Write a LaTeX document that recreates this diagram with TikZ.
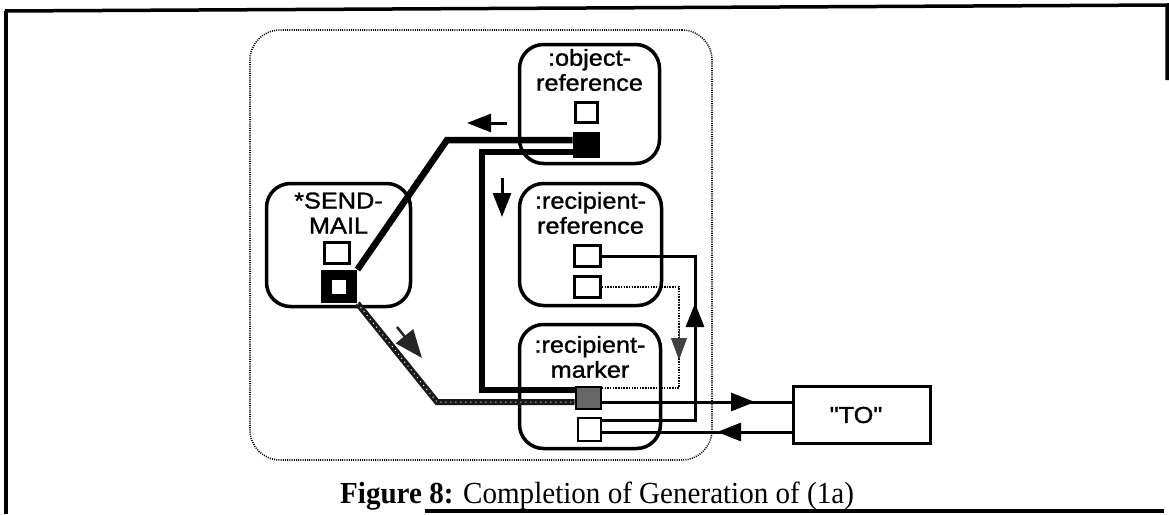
\documentclass[tikz,border=0pt]{standalone}
\usepackage{fontspec}
\setmainfont{Liberation Serif}
\newfontfamily\diafont[FakeStretch=1.1,FakeBold=1.3]{Liberation Sans}
\newfontfamily\capfont[FakeStretch=0.95]{Liberation Serif}
\usetikzlibrary{arrows.meta}
\begin{document}
\begin{tikzpicture}[x=1pt,y=-1pt,
  objbox/.style={draw, line width=3.5pt, rounded corners=24pt, inner sep=0pt},
  grpbox/.style={draw, line width=1.6pt, dash pattern=on 1pt off 1.2pt, rounded corners=30pt, inner sep=0pt},
  plainbox/.style={draw, line width=3pt, inner sep=0pt},
  port/.style={draw, line width=2.8pt, fill=white, inner sep=0pt, minimum width=25pt, minimum height=21pt},
  lbl/.style={align=center, font=\diafont\fontsize{23}{25}\selectfont, inner sep=0pt},
  caplbl/.style={font=\capfont\fontsize{30.6}{34}\selectfont, inner sep=0pt},
  wire/.style={line width=3pt},
  heavy/.style={line width=6.5pt},
  dotline/.style={line width=2.5pt, dash pattern=on 1.5pt off 1.2pt},
  head/.style={-{Triangle[length=24pt,width=18pt]}},
  framerule/.style={line width=3.5pt},
]
\useasboundingbox (0,0) rectangle (1169,514);

% outer frame
\draw[framerule] (5,11) -- (1167,5) -- (1167,80);
\draw[framerule] (6,11) -- (6,514);
\draw[framerule] (425,511) -- (1164,511);

% group
\node[grpbox, minimum width=462pt, minimum height=430pt] (grp) at (481,245) {};

% boxes
\node[objbox, minimum width=140pt, minimum height=119pt] (objref) at (589.5,104) {};
\node[objbox, minimum width=144pt, minimum height=123pt] (send) at (338.5,245) {};
\node[objbox, minimum width=142pt, minimum height=122pt] (recref) at (590.5,244.5) {};
\node[objbox, minimum width=141pt, minimum height=124pt] (marker) at (590,386.5) {};
\node[plainbox, minimum width=137pt, minimum height=57pt] (tobox) at (862,415) {};

% labels
\node[lbl] (objrefT) at (589.5,70) {:object-\\reference};
\node[lbl] (sendT) at (338.5,213) {*SEND-\\MAIL};
\node[lbl] (recrefT) at (590.5,213) {:recipient-\\reference};
\node[lbl] (markerT) at (590,357) {:recipient-\\marker};
\node[lbl] (toT) at (856,415) {"TO"};

% ports
\node[port, minimum width=22pt, minimum height=20pt] (orW) at (586.5,112.5) {};
\node[port, fill=black, minimum width=25pt, minimum height=24pt] (orB) at (586.5,145) {};
\node[port] (smW) at (337,253) {};
\node[port, fill=black, minimum width=34pt, minimum height=31pt] (smB) at (339,286.5) {};
\node[fill=white, minimum size=14pt, inner sep=0pt] (smBi) at (339,286.5) {};
\node[port, minimum width=26pt] (rr1) at (587.5,256) {};
\node[port, minimum width=26pt] (rr2) at (587.5,287) {};
\node[port, fill=black!60, minimum width=25pt, minimum height=22pt] (mG) at (588.5,398) {};
\node[port, minimum width=23pt, minimum height=23pt] (mW) at (589.5,429.5) {};

% connectors
\draw[heavy] ([yshift=5pt]orB.west) -- (447,140) -- (smB.north east);
\draw[heavy, line width=6pt] ([yshift=-7pt]orB.west) -- (482,152) -- (482,390) -- ([yshift=8pt]mG.west);
\draw[heavy, line width=6pt, black!90] (smB.south east) -- (437,402) -- ([yshift=-4pt]mG.west);
\draw[line width=1pt, white, dash pattern=on 1pt off 4pt] (smB.south east) -- (437,402) -- ([yshift=-4pt]mG.west);
\draw[wire] ([yshift=9.5pt]mW.east) -- (695,420) -- (695,256) -- (rr1.east);
\draw[dotline] (rr2.east) -- (679,287) -- (679,388) -- ([yshift=10pt]mG.east);
\coordinate (fA) at ([yshift=-4pt]mG.east);
\draw[wire] (fA) -- (fA -| tobox.west);
\coordinate (gA) at ([yshift=-2.5pt]mW.east);
\draw[wire] (gA -| tobox.west) -- (gA);

% arrowheads on connectors
\draw[wire, head] (720,402) -- (755,402);
\draw[wire, head] (760,432) -- (717,432);
\draw[wire, head] (695,340) -- (695,303);
\draw[line width=1pt, black!75, -{Triangle[length=22pt,width=16pt]}] (679,330) -- (679,360);

% detached indicator arrows
\draw[wire, head] (507,123) -- (467,123);
\draw[wire, head] (502,178) -- (502,217);
\draw[line width=2.5pt, black!85, -{Triangle[length=28pt,width=22pt]}] (397,327) -- (422,358);

% caption
\node[caplbl, anchor=base west] (cap) at (340,503) {\textbf{Figure 8:} Completion of Generation of (1a)};
\end{tikzpicture}
\end{document}
